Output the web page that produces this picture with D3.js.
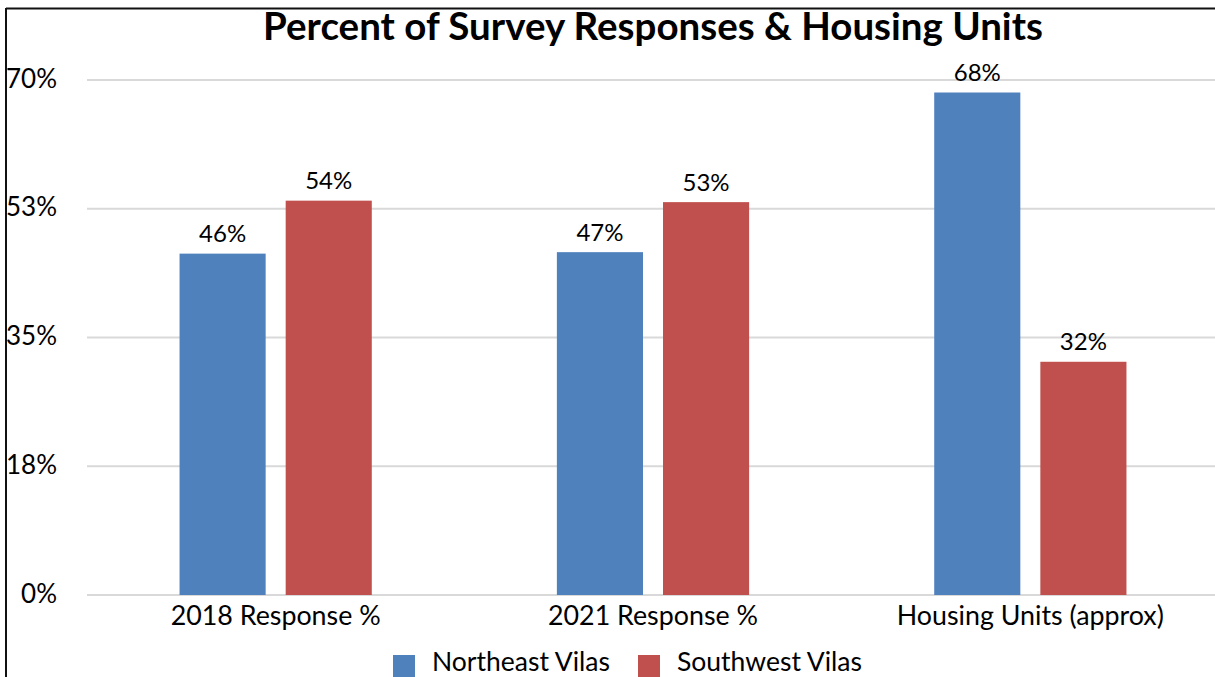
<!DOCTYPE html>
<html>
<head>
<meta charset="utf-8">
<script src="https://cdn.jsdelivr.net/npm/d3@7"></script>
<style>
  html, body { margin: 0; padding: 0; background: #fff; }
  svg { display: block; font-family: Lato, "Open Sans", sans-serif; }
</style>
</head>
<body>
<svg id="chart" width="1215" height="677"></svg>
<script>
// Chart data
const categories = ["2018 Response %", "2021 Response %", "Housing Units (approx)"];
const seriesNames = ["Northeast Vilas", "Southwest Vilas"];
const northeast = [46.4, 46.6, 68.3];
const southwest = [53.6, 53.4, 31.7];
const tickValues = [0, 17.5, 35, 52.5, 70];
const seriesColors = ["#4F81BD", "#C0504D"];
const title = "Percent of Survey Responses & Housing Units";

const series = [northeast, southwest];
const rows = categories.map((c, i) => ({
  category: c,
  values: seriesNames.map((s, j) => ({ series: s, value: series[j][i], idx: j }))
}));

const W = 1215, H = 677;
const margin = { left: 87, right: -4, top: 80, bottom: 82 };
const svg = d3.select("#chart");

// Frame (top and left edges)
svg.append("line").attr("x1", 6).attr("x2", W).attr("y1", 8.5).attr("y2", 8.5)
  .attr("stroke", "#111").attr("stroke-width", 2);
svg.append("line").attr("x1", 6).attr("x2", 6).attr("y1", 8).attr("y2", H)
  .attr("stroke", "#111").attr("stroke-width", 2);

const x0 = d3.scaleBand().domain(categories)
  .range([margin.left, W - margin.right]).paddingInner(0).paddingOuter(0);
const x1 = d3.scaleBand().domain(seriesNames)
  .range([0, x0.bandwidth()]).paddingInner(0.1887).paddingOuter(0.872);
const y = d3.scaleLinear().domain([0, 70]).range([H - margin.bottom, margin.top]);

// Gridlines
svg.append("g").selectAll("line").data(tickValues).join("line")
  .attr("x1", margin.left).attr("x2", W)
  .attr("y1", d => y(d)).attr("y2", d => y(d))
  .attr("stroke", "#d9d9d9").attr("stroke-width", 2);

// Y axis labels
const fmtTick = d => Math.round(d) + "%";
svg.append("g").selectAll("text").data(tickValues).join("text")
  .attr("x", 57).attr("y", d => y(d) + 7.5)
  .attr("text-anchor", "end")
  .attr("font-size", 26).attr("fill", "#000")
  .text(fmtTick);

// Bars
const groups = svg.append("g").selectAll("g").data(rows).join("g")
  .attr("transform", d => `translate(${x0(d.category)},0)`);
groups.selectAll("rect").data(d => d.values).join("rect")
  .attr("x", d => x1(d.series)).attr("width", x1.bandwidth())
  .attr("y", d => y(d.value)).attr("height", d => y(0) - y(d.value))
  .attr("fill", d => seriesColors[d.idx]);

// Value labels
groups.selectAll("text").data(d => d.values).join("text")
  .attr("x", d => x1(d.series) + x1.bandwidth() / 2)
  .attr("y", d => y(d.value) - 11.5)
  .attr("text-anchor", "middle")
  .attr("font-size", 24).attr("fill", "#000")
  .text(d => Math.round(d.value) + "%");

// Category labels
svg.append("g").selectAll("text").data(categories).join("text")
  .attr("x", d => x0(d) + x0.bandwidth() / 2).attr("y", 625)
  .attr("text-anchor", "middle")
  .attr("font-size", 26.8).attr("fill", "#000")
  .text(d => d);

// Title
svg.append("text").attr("x", (margin.left + W - margin.right) / 2).attr("y", 40)
  .attr("text-anchor", "middle").attr("font-size", 38.5).attr("font-weight", "bold")
  .attr("fill", "#000").text(title);

// Legend
const legendX = [393, 638];
const legend = svg.append("g").selectAll("g").data(seriesNames).join("g")
  .attr("transform", (d, i) => `translate(${legendX[i]},0)`);
legend.append("rect").attr("x", 0).attr("y", 655).attr("width", 22).attr("height", 22)
  .attr("fill", (d, i) => seriesColors[i]);
legend.append("text").attr("x", 39).attr("y", 671)
  .attr("font-size", 26.5).attr("fill", "#000").text(d => d);
</script>
</body>
</html>
